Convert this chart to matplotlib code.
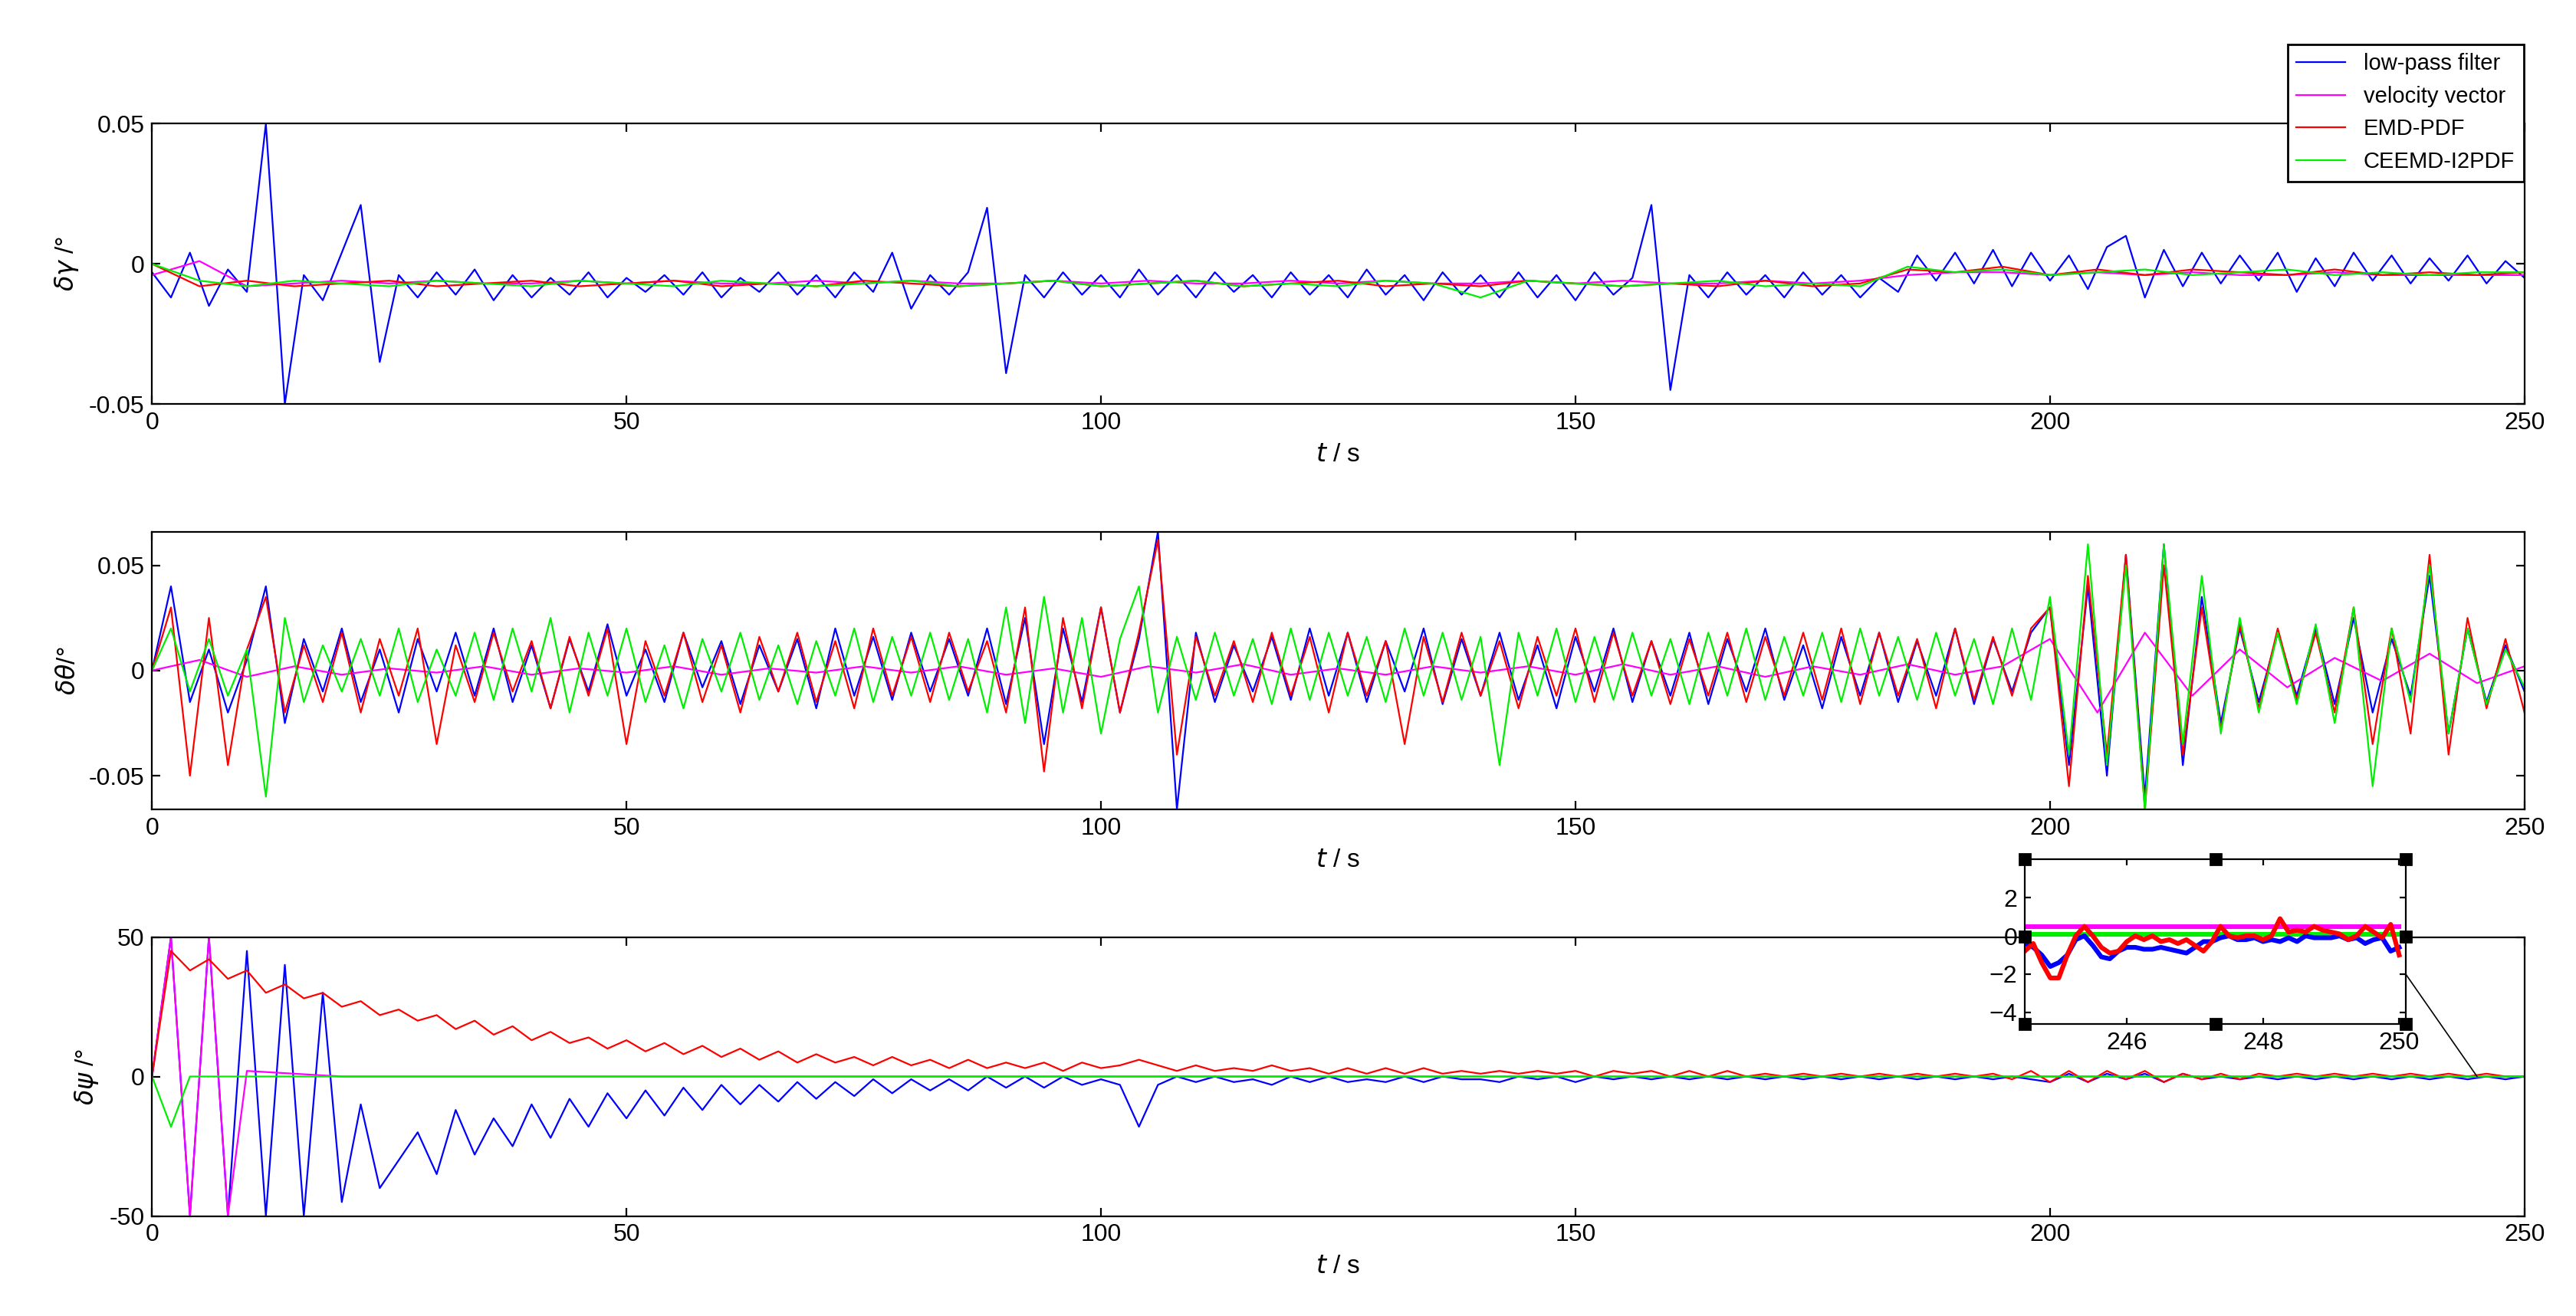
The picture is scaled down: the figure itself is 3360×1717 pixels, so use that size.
import numpy as np
import matplotlib
matplotlib.use("Agg")
import matplotlib.pyplot as plt
from matplotlib.patches import ConnectionPatch

# ---------------- data ----------------
g_blue = [-0.003,-0.012,0.004,-0.015,-0.002,-0.010,0.050,-0.050,-0.004,-0.013,0.004,0.021,
          -0.035,-0.004,-0.012,-0.003,-0.011,-0.002,-0.013,-0.004,-0.012,-0.005,-0.011,-0.003,
          -0.012,-0.005,-0.010,-0.004,-0.011,-0.003,-0.012,-0.005,-0.010,-0.003,-0.011,-0.004,
          -0.012,-0.003,-0.010,0.004,-0.016,-0.004,-0.011,-0.003,0.020,-0.039,-0.004,-0.012,
          -0.003,-0.011,-0.004,-0.012,-0.002,-0.011,-0.004,-0.012,-0.003,-0.010,-0.004,-0.012,
          -0.003,-0.011,-0.004,-0.012,-0.002,-0.011,-0.004,-0.013,-0.003,-0.011,-0.004,-0.012,
          -0.003,-0.012,-0.004,-0.013,-0.003,-0.011,-0.005,0.021,-0.045,-0.004,-0.012,-0.003,
          -0.011,-0.004,-0.012,-0.003,-0.011,-0.004,-0.012,-0.005,-0.010,0.003,-0.006,0.004,
          -0.007,0.005,-0.008,0.004,-0.006,0.003,-0.009,0.006,0.010,-0.012,0.005,-0.008,
          0.004,-0.007,0.003,-0.006,0.004,-0.010,0.002,-0.008,0.004,-0.006,0.003,-0.007,
          0.002,-0.006,0.003,-0.007,0.001,-0.005]
g_red = [0.0,-0.008,-0.006,-0.008,-0.007,-0.006,-0.008,-0.007,-0.006,-0.008,-0.007,-0.006,
         -0.008,-0.007,-0.008,-0.006,-0.007,-0.008,-0.007,-0.006,-0.008,-0.007,-0.006,-0.008,
         -0.007,-0.006,-0.008,-0.007,-0.008,-0.006,-0.007,-0.008,-0.007,-0.008,-0.006,-0.008,
         -0.007,-0.002,-0.003,-0.001,-0.004,-0.002,-0.004,-0.002,-0.003,-0.004,-0.002,-0.004,
         -0.003,-0.004,-0.003]
g_mag = [-0.004,0.001,-0.008,-0.007,-0.006,-0.007,-0.006,-0.007,-0.007,-0.006,-0.007,-0.006,
         -0.007,-0.007,-0.006,-0.007,-0.006,-0.007,-0.007,-0.006,-0.007,-0.006,-0.007,-0.007,
         -0.006,-0.007,-0.006,-0.007,-0.007,-0.006,-0.007,-0.006,-0.007,-0.007,-0.006,-0.007,
         -0.006,-0.004,-0.003,-0.003,-0.004,-0.003,-0.004,-0.003,-0.004,-0.004,-0.003,-0.004,
         -0.004,-0.004,-0.004]
g_green = [0.0,-0.006,-0.008,-0.006,-0.007,-0.008,-0.006,-0.007,-0.008,-0.006,-0.007,-0.008,
           -0.006,-0.007,-0.008,-0.007,-0.006,-0.008,-0.007,-0.006,-0.008,-0.007,-0.006,-0.008,
           -0.007,-0.008,-0.006,-0.007,-0.012,-0.006,-0.007,-0.008,-0.007,-0.006,-0.008,-0.007,
           -0.008,-0.001,-0.003,-0.002,-0.004,-0.003,-0.002,-0.004,-0.003,-0.002,-0.004,-0.003,
           -0.004,-0.003,-0.003]

th_blue = [0.0,0.040,-0.015,0.010,-0.020,0.005,0.040,-0.025,0.015,-0.010,0.020,-0.015,
           0.010,-0.020,0.015,-0.010,0.018,-0.012,0.020,-0.015,0.012,-0.018,0.015,-0.010,
           0.022,-0.012,0.010,-0.015,0.018,-0.008,0.014,-0.016,0.012,-0.010,0.015,-0.018,
           0.020,-0.012,0.016,-0.014,0.018,-0.010,0.015,-0.012,0.020,-0.016,0.025,-0.035,
           0.020,-0.015,0.030,-0.020,0.015,0.066,-0.066,0.018,-0.015,0.012,-0.010,0.016,
           -0.014,0.020,-0.012,0.018,-0.015,0.014,-0.010,0.020,-0.016,0.015,-0.012,0.018,
           -0.014,0.012,-0.018,0.016,-0.010,0.020,-0.015,0.014,-0.012,0.018,-0.016,0.015,
           -0.010,0.020,-0.014,0.012,-0.018,0.016,-0.012,0.018,-0.015,0.014,-0.012,0.020,
           -0.016,0.015,-0.010,0.018,0.030,-0.045,0.040,-0.050,0.055,-0.060,0.060,-0.045,
           0.035,-0.025,0.020,-0.015,0.018,-0.012,0.020,-0.016,0.025,-0.020,0.015,-0.012,
           0.045,-0.030,0.020,-0.015,0.012,-0.010]
th_red = [0.0,0.030,-0.050,0.025,-0.045,0.010,0.035,-0.020,0.012,-0.015,0.018,-0.020,
          0.015,-0.012,0.020,-0.035,0.012,-0.015,0.018,-0.010,0.014,-0.018,0.016,-0.012,
          0.020,-0.035,0.014,-0.012,0.018,-0.015,0.012,-0.020,0.016,-0.010,0.018,-0.015,
          0.014,-0.018,0.020,-0.012,0.016,-0.015,0.018,-0.010,0.014,-0.020,0.030,-0.048,
          0.025,-0.018,0.030,-0.020,0.018,0.062,-0.040,0.016,-0.012,0.014,-0.015,0.018,
          -0.012,0.016,-0.020,0.018,-0.012,0.014,-0.035,0.016,-0.015,0.018,-0.012,0.014,
          -0.018,0.016,-0.012,0.020,-0.015,0.018,-0.012,0.014,-0.016,0.015,-0.012,0.018,
          -0.015,0.016,-0.012,0.018,-0.014,0.020,-0.016,0.018,-0.012,0.015,-0.018,0.020,
          -0.014,0.016,-0.012,0.020,0.030,-0.055,0.045,-0.040,0.055,-0.066,0.050,-0.040,
          0.030,-0.028,0.022,-0.018,0.020,-0.014,0.018,-0.020,0.030,-0.035,0.020,-0.030,
          0.055,-0.040,0.025,-0.018,0.015,-0.020]
th_green = [0.0,0.020,-0.010,0.015,-0.012,0.010,-0.060,0.025,-0.015,0.012,-0.010,0.015,
            -0.012,0.020,-0.015,0.010,-0.012,0.018,-0.014,0.020,-0.010,0.025,-0.020,0.018,
            -0.012,0.020,-0.015,0.012,-0.018,0.015,-0.010,0.018,-0.014,0.012,-0.016,0.014,
            -0.012,0.020,-0.015,0.016,-0.012,0.018,-0.014,0.015,-0.020,0.030,-0.025,0.035,
            -0.020,0.025,-0.030,0.015,0.040,-0.020,0.016,-0.014,0.018,-0.012,0.015,-0.016,
            0.020,-0.014,0.018,-0.012,0.016,-0.015,0.020,-0.012,0.018,-0.014,0.016,-0.045,
            0.018,-0.012,0.020,-0.015,0.016,-0.014,0.018,-0.012,0.015,-0.016,0.018,-0.012,
            0.020,-0.014,0.016,-0.012,0.018,-0.015,0.020,-0.012,0.016,-0.014,0.018,-0.012,
            0.015,-0.016,0.020,-0.014,0.035,-0.040,0.060,-0.045,0.050,-0.066,0.060,-0.035,
            0.045,-0.030,0.025,-0.020,0.018,-0.016,0.022,-0.025,0.030,-0.055,0.020,-0.015,
            0.050,-0.030,0.020,-0.016,0.010,-0.008]
th_mag = [0.0,0.005,-0.003,0.002,-0.002,0.001,-0.001,0.002,-0.002,0.001,-0.001,0.002,
          -0.002,0.001,-0.001,0.002,-0.001,0.002,-0.002,0.001,-0.003,0.002,-0.001,0.003,
          -0.002,0.001,-0.002,0.002,-0.001,0.002,-0.002,0.003,-0.002,0.002,-0.003,0.002,
          -0.002,0.003,-0.002,0.002,0.015,-0.020,0.018,-0.012,0.010,-0.008,0.006,-0.005,
          0.008,-0.006,0.002]

p_blue = [0.0,50,-50,50,-50,45,-50,40,-50,30,-45,-10,-40,-30,-20,-35,-12,-28,-15,-25,
          -10,-22,-8,-18,-6,-15,-5,-14,-4,-12,-3,-10,-3,-9,-2,-8,-2,-7,-1,-6,
          -1,-5,-1,-5,0,-4,0,-4,0,-3,-1,-3,-18,-3,0,-2,0,-2,-1,-3,
          0,-2,0,-2,-1,-2,0,-2,0,-1,-1,-2,0,-1,0,-2,0,-1,0,-1,
          0,-1,0,-1,0,-1,0,-1,0,-1,0,-1,0,-1,0,-1,0,-1,0,-1,
          -2,1,-2,1,-1,1,-2,1,-1,0,-1,0,-1,0,-1,0,-1,0,-1,0,
          -1,0,-1,0,-1,0]
p_red = [0.0,45,38,42,35,38,30,33,28,30,25,27,22,24,20,22,17,20,15,18,
         13,16,12,14,10,13,9,12,8,11,7,10,6,9,5,8,5,7,4,7,
         4,6,3,6,3,5,3,5,2,5,3,4,6,4,2,4,2,3,2,4,
         2,3,1,3,1,3,1,3,1,2,1,2,1,2,1,2,0,2,1,2,
         0,2,0,2,0,1,0,1,0,1,0,1,0,1,0,1,0,1,-1,2,
         -2,2,-2,2,-1,2,-2,1,-1,1,-1,1,0,1,0,1,0,1,0,1,
         0,1,0,1,0,0]
t_p3s = [0,2,4,6,8,10,15,20,25,30,35,40,45,50,55,60,65,70,75,80,85,90,95,100,105,110,
         115,120,125,130,135,140,145,150,155,160,165,170,175,180,185,190,195,200,205,210,
         215,220,230,240,250]
p_mag = [0.0,50,-50,50,-50,2,1,0,0,0,0,0,0,0,0,0,0,0,0,0,0,0,0,0,0,0,0,0,0,0,0,0,0,
         0,0,0,0,0,0,0,0,0,0,0,0,0,0,0,0,0,0]
p_green = [0.0,-18,0,0,0,0,0,0,0,0,0,0,0,0,0,0,0,0,0,0,0,0,0,0,0,0,0,0,0,0,0,0,0,
           0,0,0,0,0,0,0,0,0,0,0,0,0,0,0,0,0,0]

ins_red = [-0.8,-0.4,-1.4,-2.2,-2.2,-1.0,0.0,0.5,0.0,-0.6,-0.9,-0.8,-0.3,0.0,-0.2,0.0,-0.3,
           -0.2,-0.4,-0.2,-0.5,-0.8,-0.3,0.5,0.0,-0.1,0.0,0.0,-0.2,0.0,0.9,0.2,0.3,0.2,0.5,
           0.3,0.2,0.1,-0.2,0.0,0.5,0.2,-0.1,0.6,-1.0]
ins_blue = [-0.4,-0.6,-1.0,-1.6,-1.4,-1.0,-0.2,0.0,-0.5,-1.1,-1.2,-0.8,-0.6,-0.6,-0.7,-0.7,
            -0.6,-0.7,-0.8,-0.9,-0.6,-0.3,-0.3,-0.1,0.0,-0.2,-0.2,-0.1,-0.3,-0.2,-0.3,-0.1,
            -0.3,0.0,-0.1,-0.1,-0.1,0.0,-0.2,-0.1,-0.4,-0.2,-0.1,-0.8,-0.6]
ins_mag = [0.5] * 45
ins_green = [0.1] * 45

labels = ["low-pass filter", "velocity vector", "EMD-PDF", "CEEMD-I2PDF"]
colors = ["#0000ff", "#ff00ff", "#ff0000", "#00ee00"]

def tt(arr, step):
    return np.arange(len(arr)) * step

# ---------------- plot ----------------
plt.rcParams['font.family'] = ['Liberation Sans', 'DejaVu Sans']
plt.rcParams['mathtext.fontset'] = 'dejavusans'
fig = plt.figure(figsize=(16.8, 8.585), dpi=200)
L, W = 0.059, 0.921
ax1 = fig.add_axes([L, 0.693, W, 0.213])
ax2 = fig.add_axes([L, 0.385, W, 0.211])
ax3 = fig.add_axes([L, 0.076, W, 0.212])

lw = 0.8
h = []
h += ax1.plot(tt(g_blue, 2), g_blue, color=colors[0], lw=lw)
h += ax1.plot(tt(g_mag, 5), g_mag, color=colors[1], lw=lw)
h += ax1.plot(tt(g_red, 5), g_red, color=colors[2], lw=lw)
h += ax1.plot(tt(g_green, 5), g_green, color=colors[3], lw=lw)

ax2.plot(tt(th_blue, 2), th_blue, color=colors[0], lw=lw)
ax2.plot(tt(th_mag, 5), th_mag, color=colors[1], lw=lw)
ax2.plot(tt(th_red, 2), th_red, color=colors[2], lw=lw)
ax2.plot(tt(th_green, 2), th_green, color=colors[3], lw=lw)

ax3.plot(tt(p_blue, 2), p_blue, color=colors[0], lw=lw)
ax3.plot(t_p3s, p_mag, color=colors[1], lw=lw)
ax3.plot(tt(p_red, 2), p_red, color=colors[2], lw=lw)
ax3.plot(t_p3s, p_green, color=colors[3], lw=lw)

for ax, yl, lab, yt in [(ax1, 0.05, r"$\delta\gamma$ /°", [-0.05, 0, 0.05]),
                         (ax2, 0.066, r"$\delta\theta$/°", [-0.05, 0, 0.05]),
                         (ax3, 50, r"$\delta\psi$ /°", [-50, 0, 50])]:
    ax.set_xlim(0, 250)
    ax.set_ylim(-yl, yl)
    ax.set_yticks(yt)
    ax.set_yticklabels([("%g" % v) for v in yt])
    ax.set_xticks([0, 50, 100, 150, 200, 250])
    ax.tick_params(labelsize=11.5, direction='in', length=4, top=True, right=True)
    ax.set_xlabel(r"$t$ / s", fontsize=12)
    ax.set_ylabel(lab, fontsize=12)

fig.legend(h, labels, loc='upper right', bbox_to_anchor=(0.984, 0.975),
           fontsize=10.5, fancybox=False, edgecolor='black', framealpha=1,
           handlelength=2.2, borderpad=0.4, labelspacing=0.5)

ins_t = 244.5 + np.arange(len(ins_red)) * 0.125
axi = fig.add_axes([0.786, 0.222, 0.148, 0.125])
axi.plot(ins_t, ins_mag, color=colors[1], lw=2.2)
axi.plot(ins_t, ins_green, color=colors[3], lw=2.2)
axi.plot(ins_t, ins_blue, color=colors[0], lw=2.2)
axi.plot(ins_t, ins_red, color=colors[2], lw=2.2)
axi.set_xlim(244.5, 250.1)
axi.set_ylim(-4.6, 4)
axi.set_yticks([-4, -2, 0, 2])
axi.set_xticks([246, 248, 250])
axi.tick_params(labelsize=11.5, direction='in', length=3, top=True, right=True)
for (xx, yy) in [(0, 0), (0.5, 0), (1, 0), (0, 1), (0.5, 1), (1, 1), (0, 0.53), (1, 0.53)]:
    axi.plot([xx], [yy], marker='s', color='black', ms=5, transform=axi.transAxes, clip_on=False)

con = ConnectionPatch(xyA=(1, 0.3), coordsA=axi.transAxes,
                      xyB=(245, 0), coordsB=ax3.transData, color='black', lw=0.6)
fig.add_artist(con)

fig.savefig("out.png", dpi=200, facecolor='white')
